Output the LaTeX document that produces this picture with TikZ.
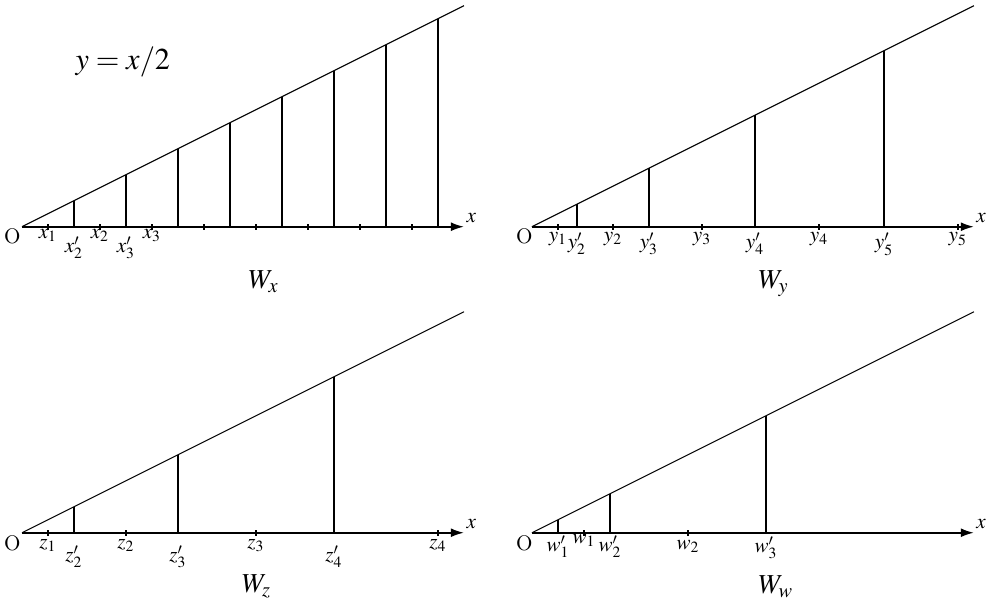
\documentclass[tikz,border=0pt]{standalone}
\usepackage{mathptmx}
\usetikzlibrary{
    arrows.meta
}

\begin{document}
\begin{tikzpicture}[
    x=0.4333cm,
    y=0.4333cm,
    axis/.style={
        line width=0.9pt,
        -{Latex[length=2.2mm,width=1.5mm]}
    },
    slope/.style={line width=0.5pt},
    drop/.style={line width=0.9pt},
    tickmark/.style={line width=0.7pt},
    lbl/.style={anchor=base, inner sep=0pt, font=\normalsize},
    origin/.style={inner sep=0pt, font=\normalsize},
    axisname/.style={anchor=base west, inner sep=0pt, font=\normalsize},
    caption/.style={anchor=base west, inner sep=0pt, font=\fontsize{13}{15}\selectfont}
]

\useasboundingbox (0,0) rectangle (38.154,23.5);

% W_x : equal steps
\begin{scope}[shift={(0.846,14.78)}]
\coordinate (ox) at (0,0);
\coordinate (ex) at (17,0);
\coordinate (tx) at (17,8.5);
\draw[slope] (ox) -- (tx);
\draw[axis] (ox) -- (ex);
\foreach \t in {1,3,...,15}
    \draw[tickmark] (\t,-0.12) -- (\t,0.12);
\foreach \v in {2,4,...,16}
    \draw[drop] (\v,0) -- (\v,\v/2);
\foreach \p/\s/\d [count=\i] in {1/x_1/12, 2/x'_2/26, 3/x_2/12, 4/x'_3/26, 5/x_3/12}
    \node[lbl] (lx\i) at (\p,-\d/26) {$\s$};
\node[origin] (Ox) at (-0.37,-0.37) {O};
\node[axisname] (nx) at (17.08,0.15) {$x$};
\node[caption] (capx) at (8.7,-2.36) {$W_x$};
\node[font=\Large, inner sep=0pt] (eqn) at (3.88,6.33) {$y=x/2$};
\end{scope}

% W_y
\begin{scope}[shift={(20.46,14.78)}]
\coordinate (oy) at (0,0);
\coordinate (ey) at (17,0);
\coordinate (ty) at (17,8.5);
\draw[slope] (oy) -- (ty);
\draw[axis] (oy) -- (ey);
\foreach \t in {1,3.12,6.54,11.04,16.38}
    \draw[tickmark] (\t,-0.12) -- (\t,0.12);
\foreach \v in {1.73,4.5,8.58,13.54}
    \draw[drop] (\v,0) -- (\v,\v/2);
\foreach \p/\s/\d [count=\i] in {1/y_1/15, 1.73/y'_2/22, 3.12/y_2/15, 4.5/y'_3/22,
    6.54/y_3/15, 8.58/y'_4/22, 11.04/y_4/15, 13.54/y'_5/22, 16.38/y_5/15}
    \node[lbl] (ly\i) at (\p,-\d/26) {$\s$};
\node[origin] (Oy) at (-0.29,-0.37) {O};
\node[axisname] (ny) at (17.08,0.15) {$x$};
\node[caption] (capy) at (8.7,-2.36) {$W_y$};
\end{scope}

% W_z
\begin{scope}[shift={(0.846,3.01)}]
\coordinate (oz) at (0,0);
\coordinate (ez) at (17,0);
\coordinate (tz) at (17,8.5);
\draw[slope] (oz) -- (tz);
\draw[axis] (oz) -- (ez);
\foreach \t in {1,4,9,16}
    \draw[tickmark] (\t,-0.12) -- (\t,0.12);
\foreach \v in {2,6,12}
    \draw[drop] (\v,0) -- (\v,\v/2);
\foreach \p/\s/\d [count=\i] in {1/z_1/16, 2/z'_2/29, 4/z_2/16, 6/z'_3/29,
    9/z_3/16, 12/z'_4/29, 16/z_4/16}
    \node[lbl] (lz\i) at (\p,-\d/26) {$\s$};
\node[origin] (Oz) at (-0.37,-0.40) {O};
\node[axisname] (nz) at (17.08,0.15) {$x$};
\node[caption] (capz) at (8.45,-2.28) {$W_z$};
\end{scope}

% W_w
\begin{scope}[shift={(20.46,3.01)}]
\coordinate (ow) at (0,0);
\coordinate (ew) at (17,0);
\coordinate (tw) at (17,8.5);
\draw[slope] (ow) -- (tw);
\draw[axis] (ow) -- (ew);
\foreach \t in {2,6}
    \draw[tickmark] (\t,-0.12) -- (\t,0.12);
\foreach \v in {1,3,9}
    \draw[drop] (\v,0) -- (\v,\v/2);
\foreach \p/\s/\d [count=\i] in {1/w'_1/19, 2/w_1/11, 3/w'_2/19, 6/w_2/17, 9/w'_3/20}
    \node[lbl] (lw\i) at (\p,-\d/26) {$\s$};
\node[origin] (Ow) at (-0.29,-0.40) {O};
\node[axisname] (nw) at (17.08,0.15) {$x$};
\node[caption] (capw) at (8.7,-2.32) {$W_w$};
\end{scope}

\end{tikzpicture}
\end{document}
